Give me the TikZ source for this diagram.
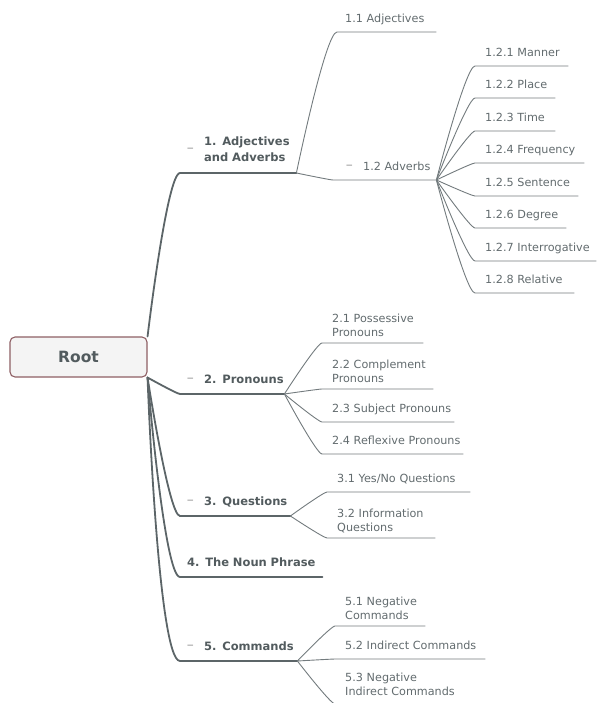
\documentclass[tikz,border=0pt]{standalone}
\usepackage{fontspec}
\setmainfont{DejaVu Sans}
\usepackage{tikz}
\usetikzlibrary{positioning}
\definecolor{ink}{HTML}{525B5E}
\definecolor{subink}{HTML}{626B6E}
\definecolor{trunkgray}{HTML}{5C6568}
\definecolor{twiggray}{HTML}{737B7E}
\definecolor{rootline}{HTML}{8E5F64}
\definecolor{rootfill}{HTML}{F4F4F4}
\tikzset{
  rootbox/.style={draw=rootline, fill=rootfill, line width=1.1pt, rounded corners=5pt, minimum width=137pt, minimum height=40pt, font=\fontsize{15.5}{18}\selectfont\bfseries, text=ink},
  topic/.style={anchor=south west, align=left, text width=#1, inner xsep=0pt, inner ysep=10pt, text depth=0pt, font=\fontsize{11.5}{16}\selectfont\bfseries, text=ink},
  sub/.style={anchor=south west, align=left, text width=#1, inner xsep=0pt, inner ysep=9.5pt, text depth=0pt, font=\fontsize{11.2}{14}\selectfont, text=subink},
  twoline/.style={inner ysep=6.5pt, text depth=14pt},
  fold/.style={inner sep=0pt, font=\fontsize{14}{14}\selectfont, text=gray!75},
  trunk/.style={draw=trunkgray, line width=1.8pt, line cap=round},
  twig/.style={draw=twiggray, line width=.9pt},
  fan/.style={out=0, in=180, out looseness=0, in looseness=.2},
}
\begin{document}
\begin{tikzpicture}[x=1pt, y=1pt]
    \useasboundingbox (0,0) rectangle (597,-703);
    \clip (0,0) rectangle (597,-703);
    \node[rootbox] (root) at (78.5,-357) {Root};
    % main topics
    \node[topic=92pt, text depth=16pt, inner ysep=11pt] (m1) at (204,-173) {1. Adjectives\\and Adverbs};
    \node[topic=80pt] (m2) at (204,-394) {2. Pronouns};
    \node[topic=86pt] (m3) at (204,-516) {3. Questions};
    \node[topic=135pt] (m4) at (187,-577) {4. The Noun Phrase};
    \node[topic=93pt] (m5) at (204,-661) {5. Commands};
    \foreach \n in {m1,m2,m3,m5}{ \node[fold, left=10pt of \n, yshift=-1pt] (f\n) {\textendash}; }
    % 1.
    \node[sub=91pt] (s11) at (345,-32) {1.1 Adjectives};
    \node[sub=73pt] (s12) at (363,-180) {1.2 Adverbs};
    \node[fold, left=10pt of s12, yshift=-1pt] (fs12) {\textendash};
    \foreach \i/\y/\w/\t in {1/66/83pt/Manner, 2/98/70pt/Place, 3/131/70pt/Time, 4/163/99pt/Frequency,
        5/196/93pt/Sentence, 6/228/81pt/Degree, 7/261/111pt/Interrogative, 8/293/89pt/Relative}
      \node[sub=\w] (s12\i) at (485,-\y) {1.2.\i\ \t};
    % 2. 3. 5.
    \node[sub=91pt, twoline] (s21) at (332,-343) {2.1 Possessive\\Pronouns};
    \node[sub=101pt, twoline] (s22) at (332,-389) {2.2 Complement\\Pronouns};
    \node[sub=122pt] (s23) at (332,-422) {2.3 Subject Pronouns};
    \node[sub=131pt] (s24) at (332,-454) {2.4 Reflexive Pronouns};
    \node[sub=133pt] (s31) at (337,-492) {3.1 Yes/No Questions};
    \node[sub=98pt, twoline] (s32) at (337,-538) {3.2 Information\\Questions};
    \node[sub=80pt, twoline] (s51) at (345,-626) {5.1 Negative\\Commands};
    \node[sub=140pt] (s52) at (345,-659) {5.2 Indirect Commands};
    \node[sub=125pt, twoline, inner ysep=8.5pt] (s53) at (345,-704) {5.3 Negative\\Indirect Commands};

    \draw[trunk] (root.north east) to[fan] ([xshift=-24pt]m1.south west) -- (m1.south east);
    \foreach \n in {m2,m3,m5}{ \draw[trunk] (root.south east) to[fan] ([xshift=-24pt]\n.south west) -- (\n.south east); }
    \draw[trunk] (root.south east) to[fan] ([xshift=-7pt]m4.south west) -- (m4.south east);

    \draw[twig] (m1.south east) to[fan] ([xshift=-8pt]s11.south west) -- (s11.south east);
    \draw[twig] (m1.south east) to[fan] ([xshift=-30pt]s12.south west) -- (s12.south east);
    \foreach \i in {1,...,8}{ \draw[twig] (s12.south east) to[fan] ([xshift=-10pt]s12\i.south west) -- (s12\i.south east); }
    \foreach \c in {s21,s22,s23,s24}{ \draw[twig] (m2.south east) to[fan] ([xshift=-10pt]\c.south west) -- (\c.south east); }
    \foreach \c in {s31,s32}{ \draw[twig] (m3.south east) to[fan] ([xshift=-10pt]\c.south west) -- (\c.south east); }
    \foreach \c in {s51,s52,s53}{ \draw[twig] (m5.south east) to[fan] ([xshift=-10pt]\c.south west) -- (\c.south east); }
\end{tikzpicture}
\end{document}
